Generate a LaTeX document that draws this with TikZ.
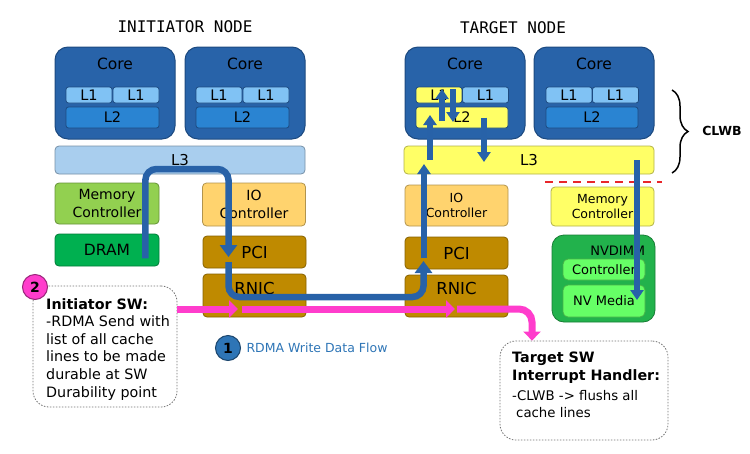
\documentclass[tikz,border=0pt]{standalone}
\usepackage{fontspec}
\setmainfont{DejaVu Sans}
\newfontfamily\titlefont{DejaVu Sans Mono}
\usetikzlibrary{arrows.meta,decorations.pathreplacing}

\definecolor{coreblue}{HTML}{2863A9}
\definecolor{coreedge}{HTML}{1D4A80}
\definecolor{l1blue}{HTML}{80C2F4}
\definecolor{l2blue}{HTML}{2A84D2}
\definecolor{l3blue}{HTML}{A9CEEE}
\definecolor{memgreen}{HTML}{92D050}
\definecolor{dramgreen}{HTML}{00B050}
\definecolor{iogold}{HTML}{FFD36E}
\definecolor{pcibrown}{HTML}{BF8A00}
\definecolor{hotyellow}{HTML}{FFFF66}
\definecolor{nvgreen}{HTML}{22B24C}
\definecolor{nvlight}{HTML}{66FF66}
\definecolor{flowblue}{HTML}{2862A8}
\definecolor{swpink}{HTML}{FF3DCC}
\definecolor{legendblue}{HTML}{2E75B6}
\definecolor{cutred}{HTML}{E8262A}

\tikzset{
  core/.style={draw=coreedge, fill=coreblue, line width=1pt, rounded corners=13pt,
    minimum width=120pt, minimum height=92pt,
    label={[anchor=north, inner sep=0pt, yshift=-11pt, font=\fontsize{15.5}{18}\selectfont]north:Core}},
  cache/.style={draw=coreedge, fill=#1, line width=0.8pt, rounded corners=2.5pt,
    minimum width=46pt, minimum height=16pt, inner sep=0pt, font=\fontsize{14.5}{17}\selectfont},
  unit/.style={draw=#1!70!black, fill=#1, line width=0.8pt, rounded corners=4pt,
    minimum width=103pt, inner sep=0pt, align=center, font=\fontsize{14}{17.5}\selectfont},
  callout/.style={draw=black!55, line width=0.8pt, dash pattern=on 1.5pt off 1.5pt,
    fill=white, rounded corners=16pt},
  badge/.style={circle, draw=#1!60!black, fill=#1, line width=1pt, minimum size=25pt,
    inner sep=0pt, font=\bfseries\fontsize{14}{17}\selectfont},
  flow/.style={draw=flowblue, line width=6.5pt, rounded corners=11pt,
    -{Triangle[width=17pt, length=12pt]}},
  hop/.style={draw=flowblue, line width=5.5pt, -{Triangle[width=13pt, length=10pt]}},
  swflow/.style={draw=swpink, line width=7pt, rounded corners=13pt,
    -{Triangle[width=17pt, length=9pt]}},
}

\begin{document}
\begin{tikzpicture}[x=1pt, y=-1pt]
  \useasboundingbox (0,0) rectangle (750,453);

  % initiator node
  \path (185, 27) node [font=\titlefont\fontsize{16}{19}\selectfont] (ititle) {INITIATOR NODE}
        (115, 93) node [core] (icore1) {}
        (245, 93) node [core] (icore2) {}
        ( 89, 95) node [cache=l1blue] (iL1a) {L1}
        (136, 95) node [cache=l1blue] (iL1b) {L1}
        (219, 95) node [cache=l1blue] (iL1c) {L1}
        (266, 95) node [cache=l1blue] (iL1d) {L1}
        (112.5,117.5) node [cache=l2blue, minimum width=93pt, minimum height=21pt] (iL2a) {L2}
        (242.5,117.5) node [cache=l2blue, minimum width=93pt, minimum height=21pt] (iL2b) {L2}
        (180,160)   node [unit=l3blue, minimum width=250pt, minimum height=28pt,
                          font=\fontsize{15}{18}\selectfont] (iL3) {L3}
        (107,203.5) node [unit=memgreen, minimum width=104pt, minimum height=41pt] (imem) {Memory\\Controller}
        (254,204.5) node [unit=iogold, minimum height=43pt] (iio) {IO\\Controller}
        (107,250)   node [unit=dramgreen, minimum width=104pt, minimum height=32pt,
                          font=\fontsize{15.5}{18}\selectfont] (idram) {DRAM}
        (254.5,252) node [unit=pcibrown, minimum height=32pt,
                          font=\fontsize{16.5}{20}\selectfont] (ipci) {PCI}
        (254.5,295.5) node [unit=pcibrown, minimum height=43pt, text depth=15pt,
                          font=\fontsize{16.5}{20}\selectfont] (irnic) {RNIC};

  % target node
  \path (513, 28) node [font=\titlefont\fontsize{16}{19}\selectfont] (ttitle) {TARGET NODE}
        (465, 93) node [core] (tcore1) {}
        (594, 93) node [core] (tcore2) {}
        (439, 95) node [cache=hotyellow] (tL1a) {L1}
        (485.5,95) node [cache=l1blue] (tL1b) {L1}
        (569, 95) node [cache=l1blue] (tL1c) {L1}
        (615.5,95) node [cache=l1blue] (tL1d) {L1}
        (462,117.5) node [cache=hotyellow, minimum width=92pt, minimum height=21pt] (tL2a) {L2}
        (592,117.5) node [cache=l2blue, minimum width=92pt, minimum height=21pt] (tL2b) {L2}
        (529,160)   node [unit=hotyellow, minimum width=250pt, minimum height=28pt,
                          font=\fontsize{15}{18}\selectfont] (tL3) {L3}
        (456.5,205.5) node [unit=iogold, minimum height=41pt,
                          font=\fontsize{12.5}{15}\selectfont] (tio) {IO\\Controller}
        (602.5,206.5) node [unit=hotyellow, minimum height=39pt,
                          font=\fontsize{12.5}{15}\selectfont] (tmem) {Memory\\Controller}
        (456.5,253) node [unit=pcibrown, minimum height=32pt,
                          font=\fontsize{16.5}{20}\selectfont] (tpci) {PCI}
        (456.5,296) node [unit=pcibrown, minimum height=42pt, text depth=15pt,
                          font=\fontsize{16.5}{20}\selectfont] (trnic) {RNIC}
        (603.5,278.5) node [unit=nvgreen, rounded corners=12pt, minimum height=87pt,
                          label={[anchor=north east, inner sep=0pt, xshift=-10pt, yshift=-11pt,
                                  font=\fontsize{13}{15}\selectfont]north east:NVDIMM}] (tnv) {}
        (604,269.5) node [unit=nvlight, rounded corners=5pt, minimum width=82pt, minimum height=21pt,
                          font=\fontsize{13}{15}\selectfont] (tnvctrl) {Controller}
        (604,301)   node [unit=nvlight, rounded corners=5pt, minimum width=82pt, minimum height=32pt,
                          font=\fontsize{13}{15}\selectfont] (tnvmedia) {NV Media};

  % CLWB reach and persistence line
  \draw [decorate, decoration={brace, amplitude=16pt}, line width=1.5pt] (672,90) -- (672,173);
  \path (722,131) node [font=\bfseries\fontsize{12.5}{15}\selectfont] (clwb) {CLWB};
  \draw [cutred, line width=2pt, dash pattern=on 8pt off 6pt] (545,182) -- (662,182);

  % RDMA write data flow
  \draw [flow] ([xshift=-14pt,yshift=8pt]idram.south east) |- ([yshift=-9pt]iL3.center)
               -| ([xshift=-26pt,yshift=-5pt]ipci.center);
  \draw [flow] ([xshift=-26pt,yshift=-10pt]ipci.center) |- ([yshift=-1.5pt]irnic.center)
               -| ([xshift=-33pt,yshift=-8pt]tpci.center);
  \draw [hop] ([xshift=-32.5pt,yshift=-5pt]tpci.center) -- ([xshift=-105pt,yshift=-4pt]tL3.center);
  \draw [hop] ([xshift=-99pt]tL3.center) -- ([xshift=-32pt,yshift=2.5pt]tL2a.center);
  \draw [hop] ([xshift=-20pt,yshift=-3.5pt]tL2a.center) -- ([xshift=3pt,yshift=6pt]tL1a.center);
  \draw [hop] ([xshift=14pt,yshift=6pt]tL1a.center) -- ([xshift=-9pt,yshift=-4.5pt]tL2a.center);
  \draw [hop] ([xshift=22pt]tL2a.center) -- ([xshift=-45pt,yshift=-2pt]tL3.center);
  \draw [hop] ([xshift=108pt]tL3.center) -- ([xshift=33pt,yshift=1pt]tnvmedia.center);

  % software callouts
  \path (105,346.5) node [callout, minimum width=144pt, minimum height=121pt] (isw) {}
        (46,298) node [anchor=north west, align=left, inner sep=0pt,
                       font=\fontsize{14.3}{17.6}\selectfont] (iswtext)
                 {\textbf{Initiator SW:}\\-RDMA Send with\\list of all cache\\lines to be made\\durable at SW\\Durability point}
        (584,390.5) node [callout, minimum width=168pt, minimum height=99pt] (tsw) {}
        (512,352) node [anchor=north west, align=left, inner sep=0pt,
                        font=\bfseries\fontsize{14.3}{17.6}\selectfont] (tswtext)
                 {Target SW\\Interrupt Handler:\\[2pt]{\mdseries\fontsize{13.3}{15}\selectfont -CLWB -> flushs all}\\
                  {\mdseries\fontsize{13.3}{15}\selectfont\hspace*{4pt}cache lines}};

  \draw [swflow] ([yshift=37.5pt]isw.east) -- ([xshift=-16.5pt,yshift=-13.5pt]irnic.center);
  \draw [swflow] ([xshift=-12.5pt,yshift=-13.5pt]irnic.center) -- ([xshift=-1.5pt,yshift=-13pt]trnic.center);
  \draw [swflow] ([xshift=0.5pt,yshift=-13pt]trnic.center) -| ([xshift=-52pt]tsw.north);

  % badges
  \path (35,287)  node [badge=swpink] (badge2) {2}
        (228,348) node [badge=legendblue] (badge1) {1}
        ([xshift=2pt]badge1.east) node [anchor=west, text=legendblue,
                       font=\fontsize{12.5}{15}\selectfont] (legend) {RDMA Write Data Flow};
\end{tikzpicture}
\end{document}
